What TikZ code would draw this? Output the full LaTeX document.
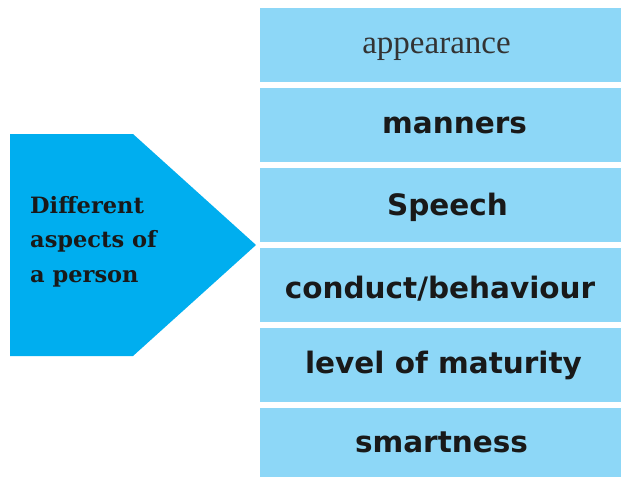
\documentclass[tikz,border=0pt]{standalone}
\usepackage{fontspec}
\newfontfamily\sanslabel{DejaVu Sans}
\newfontfamily\seriflabel{Liberation Serif}
\newfontfamily\headlabel{DejaVu Serif}
\definecolor{arrowblue}{HTML}{00AEEF}
\definecolor{boxblue}{HTML}{8DD7F7}

\begin{document}
\begin{tikzpicture}[x=1pt,y=-1pt,
	aspect/.style={anchor=base,inner sep=0pt,text=black!90,font=\sanslabel\bfseries\fontsize{29.5}{34}\selectfont},
	plain aspect/.style={anchor=base,inner sep=0pt,text=black!80,font=\seriflabel\fontsize{33}{36}\selectfont}]
\useasboundingbox (0,0) rectangle (621,477);
\foreach \t in {8,88,...,328}
	\fill[boxblue] (260,\t) rectangle (621,\t+74);
\fill[boxblue] (260,408) rectangle (621,477);
\fill[arrowblue] (10,134) -- (133,134) -- (256,245) -- (133,356) -- (10,356) -- cycle;
\path (30,282) node[anchor=base west,inner sep=0pt,align=left,text=black!90,
			font=\headlabel\bfseries\fontsize{22.5}{34.5}\selectfont] (person) {Different\\aspects of\\a person}
		(436.5,53) node[plain aspect] (appearance) {appearance}
		(454.5,133) node[aspect] (manners) {manners}
		(447.5,215) node[aspect] (speech) {Speech}
		(440,298) node[aspect] (conduct) {conduct/behaviour}
		(443.5,373) node[aspect] (maturity) {level of maturity}
		(441.5,452) node[aspect] (smartness) {smartness}
		;
\end{tikzpicture}
\end{document}
